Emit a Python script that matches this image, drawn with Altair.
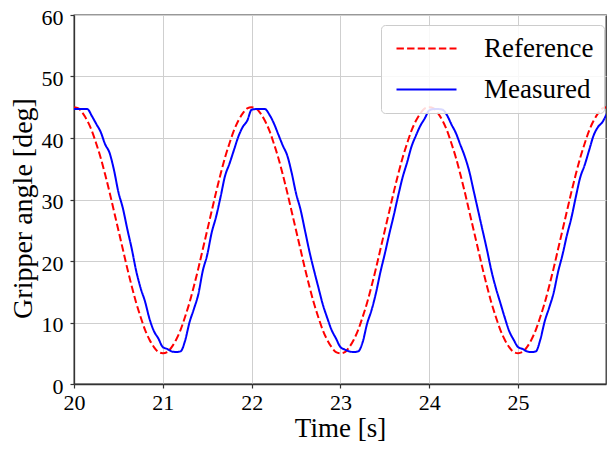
import altair as alt
import pandas as pd

# sample times (s), 0.05 s grid from 20.00 to 26.00
time = [round(20 + 0.05 * i, 2) for i in range(121)]

reference = [
    45.0, 44.8, 44.0, 42.8, 41.2, 39.1, 36.8, 34.1, 31.2, 28.1,
    25.0, 21.9, 18.8, 15.9, 13.2, 10.9, 8.8, 7.2, 6.0, 5.2,
    5.0, 5.2, 6.0, 7.2, 8.8, 10.9, 13.2, 15.9, 18.8, 21.9,
    25.0, 28.1, 31.2, 34.1, 36.8, 39.1, 41.2, 42.8, 44.0, 44.8,
    45.0, 44.8, 44.0, 42.8, 41.2, 39.1, 36.8, 34.1, 31.2, 28.1,
    25.0, 21.9, 18.8, 15.9, 13.2, 10.9, 8.8, 7.2, 6.0, 5.2,
    5.0, 5.2, 6.0, 7.2, 8.8, 10.9, 13.2, 15.9, 18.8, 21.9,
    25.0, 28.1, 31.2, 34.1, 36.8, 39.1, 41.2, 42.8, 44.0, 44.8,
    45.0, 44.8, 44.0, 42.8, 41.2, 39.1, 36.8, 34.1, 31.2, 28.1,
    25.0, 21.9, 18.8, 15.9, 13.2, 10.9, 8.8, 7.2, 6.0, 5.2,
    5.0, 5.2, 6.0, 7.2, 8.8, 10.9, 13.2, 15.9, 18.8, 21.9,
    25.0, 28.1, 31.2, 34.1, 36.8, 39.1, 41.2, 42.8, 44.0, 44.8,
    45.0,
]

measured = [
    44.7, 44.7, 44.7, 44.7, 43.6, 42.3, 41.0, 39.0, 37.6, 34.8,
    31.2, 28.6, 25.2, 22.0, 18.4, 15.6, 13.4, 10.6, 8.6, 7.4,
    6.0, 5.7, 5.3, 5.2, 5.3, 7.0, 10.0, 12.2, 14.6, 18.4,
    21.0, 24.6, 27.2, 30.4, 33.8, 35.8, 38.0, 40.2, 41.8, 42.8,
    44.6, 44.7, 44.7, 44.7, 43.8, 42.4, 40.6, 38.8, 37.2, 34.4,
    31.0, 28.4, 25.0, 21.6, 18.6, 15.8, 13.0, 10.8, 8.8, 7.4,
    6.0, 5.6, 5.3, 5.2, 5.3, 6.8, 9.8, 12.0, 14.8, 18.2,
    21.2, 24.4, 27.4, 30.6, 33.6, 36.0, 38.6, 40.4, 42.0, 43.2,
    44.5, 44.7, 44.7, 44.6, 43.7, 42.2, 40.8, 38.9, 37.0, 34.6,
    31.4, 28.2, 25.0, 21.8, 18.4, 15.6, 13.2, 10.8, 8.6, 7.2,
    6.0, 5.7, 5.3, 5.2, 5.3, 7.2, 10.2, 12.4, 14.8, 18.2,
    21.0, 24.2, 27.0, 30.4, 33.6, 35.6, 38.0, 40.4, 41.8, 42.6,
    44.0,
]

series_names = ["Reference", "Measured"]
series_colors = ["#ff0000", "#0000ff"]
series_dashes = [[7.4, 3.2], [1, 0]]
x_ticks = [20, 21, 22, 23, 24, 25]
y_ticks = [0, 10, 20, 30, 40, 50, 60]

df = pd.concat([
    pd.DataFrame({"time": time, "angle": reference, "series": "Reference"}),
    pd.DataFrame({"time": time, "angle": measured, "series": "Measured"}),
], ignore_index=True)

FONT = "Liberation Serif"

legend_def = alt.Legend(
    title=None,
    orient="none",
    legendX=307,
    legendY=10,
    fillColor="rgba(255,255,255,0.85)",
    strokeColor="#cccccc",
    cornerRadius=4,
    padding=10,
    symbolType="M-4,0H4",
    symbolSize=225,
    symbolStrokeWidth=2,
    symbolOffset=22,
    labelOffset=44,
    labelFont=FONT,
    labelFontSize=27,
    labelColor="black",
    rowPadding=13,
)

chart = alt.Chart(df).mark_line(strokeWidth=2, clip=True, interpolate="monotone").encode(
    x=alt.X("time:Q",
            scale=alt.Scale(domain=[20, 25.99], nice=False, zero=False),
            axis=alt.Axis(title="Time [s]", values=x_ticks, format="d",
                          labelFlush=False, labelPadding=4, titlePadding=2,
                          titleFontSize=27)),
    y=alt.Y("angle:Q",
            scale=alt.Scale(domain=[0, 60], nice=False),
            axis=alt.Axis(title="Gripper angle [deg]", values=y_ticks, format="d",
                          labelFlush=False, labelPadding=7, labelOffset=2,
                          titlePadding=4, titleY=193)),
    color=alt.Color("series:N",
                    scale=alt.Scale(domain=series_names, range=series_colors),
                    legend=legend_def),
    strokeDash=alt.StrokeDash("series:N",
                              scale=alt.Scale(domain=series_names, range=series_dashes),
                              legend=legend_def),
).properties(
    width=532,
    height=369,
    autosize=alt.AutoSizeParams(type="none"),
    padding={"left": 66, "top": 7, "right": 1, "bottom": 59},
).configure_view(
    stroke="#333333",
    strokeWidth=1.3,
).configure_axis(
    domainColor="#333333",
    domainWidth=1.3,
    tickColor="#333333",
    tickSize=4,
    tickWidth=1.2,
    grid=True,
    gridColor="#cfcfcf",
    gridWidth=1,
    labelFont=FONT,
    labelFontSize=22,
    labelColor="black",
    titleFont=FONT,
    titleFontSize=28,
    titleFontWeight="normal",
    titleColor="black",
)

chart.save("out.html", embed_options={"renderer": "svg", "actions": False})
